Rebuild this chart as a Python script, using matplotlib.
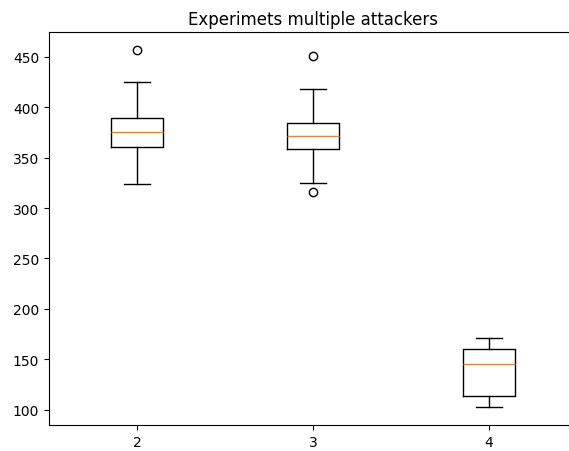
import matplotlib
matplotlib.use("Agg")
import matplotlib.pyplot as plt

# Attackers per run
labels = ["2", "3", "4"]

# Box statistics for each group of runs
whislo = [323.5, 324.5, 102.4]
q1 = [360.5, 358.9, 113.3]
med = [375.4, 372.0, 145.5]
q3 = [389.7, 384.7, 159.7]
whishi = [425.0, 418.5, 171.0]
fliers = [[457.0], [451.3, 316.0], []]

stats = []
for i, lab in enumerate(labels):
    stats.append({
        "label": lab,
        "whislo": whislo[i],
        "q1": q1[i],
        "med": med[i],
        "q3": q3[i],
        "whishi": whishi[i],
        "fliers": fliers[i],
    })

fig = plt.figure(figsize=(5.69, 4.52), dpi=100)
ax = fig.add_axes([49 / 569, 1 - 426 / 452, 528 / 569, 393 / 452])
ax.bxp(stats, widths=0.3)
ax.set_title("Experimets multiple attackers")
fig.savefig("out.png", dpi=100)
